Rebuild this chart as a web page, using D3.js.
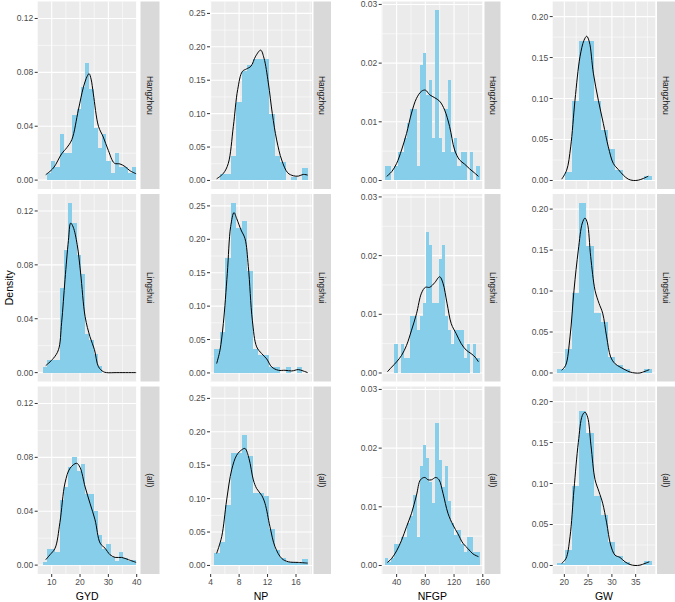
<!DOCTYPE html>
<html>
<head>
<meta charset="utf-8">
<script src="https://cdn.jsdelivr.net/npm/d3@7"></script>
<style>
  body { margin: 0; background: #fff; }
  text { font-family: "Liberation Sans", Arial, Helvetica, sans-serif; }
</style>
</head>
<body>
<div id="chart"></div>
<script>
// ---- data ----
const rowLabels = ["Hangzhou", "Lingshui", "(all)"];
const varNames = ["GYD", "NP", "NFGP", "GW"];

// GYD: 22 bins
const gydBinStart = 6.8, gydBinWidth = 1.5;
const gydHangzhou = [0, 0.005, 0.014, 0.010, 0.034, 0.020, 0.020, 0.048, 0.053, 0.069, 0.087, 0.068, 0.039, 0.024, 0.034, 0.014, 0.005, 0.020, 0.010, 0.010, 0.005, 0.010];
const gydLingshui = [0.0045, 0.0094, 0.0094, 0.0094, 0.063, 0.091, 0.126, 0.111, 0.087, 0.073, 0.029, 0.024, 0.014, 0.005, 0, 0, 0, 0, 0, 0, 0, 0];
const gydAll = [0.002, 0.012, 0.012, 0.0096, 0.048, 0.058, 0.073, 0.080, 0.070, 0.075, 0.053, 0.053, 0.040, 0.022, 0.012, 0.016, 0.006, 0.003, 0.0096, 0.005, 0.003, 0.004];

// NP: 17 bins
const npBinStart = 4.47, npBinWidth = 0.776;
const npHangzhou = [0, 0.009, 0.009, 0.037, 0.118, 0.164, 0.173, 0.182, 0.182, 0.182, 0.100, 0.037, 0.027, 0, 0.0055, 0, 0.018];
const npLingshui = [0.036, 0.062, 0.172, 0.254, 0.217, 0.227, 0.153, 0.036, 0.027, 0.027, 0.009, 0.009, 0, 0.009, 0, 0.009, 0];
const npAll = [0.018, 0.035, 0.090, 0.169, 0.169, 0.195, 0.164, 0.109, 0.109, 0.104, 0.055, 0.023, 0.0105, 0.0055, 0.0055, 0.003, 0.009];

// NFGP: 30 bins
const nfgpBinStart = 23.8, nfgpBinWidth = 4.39;
const nfgpHangzhou = [0.0024, 0.0024, 0, 0.0024, 0.0049, 0.0049, 0.0073, 0.0098, 0.0122, 0.0122, 0.0024, 0.0196, 0.0217, 0.0146, 0.0171, 0.0073, 0.029, 0.0073, 0.0049, 0.0122, 0.0171, 0.0049, 0.0073, 0.0024, 0.0049, 0.0049, 0, 0.0049, 0, 0.0024];
const nfgpLingshui = [0, 0, 0, 0.0049, 0, 0.0049, 0.0025, 0.0025, 0.0097, 0.0097, 0.0073, 0.0097, 0.012, 0.024, 0.0218, 0.012, 0.012, 0.0194, 0.0218, 0.0097, 0.0073, 0.0049, 0.0073, 0.0073, 0.0073, 0.0025, 0.0049, 0, 0.0049, 0.0025];
const nfgpAll = [0.0012, 0.0006, 0.0012, 0.0036, 0.0036, 0.0048, 0.0048, 0.0072, 0.0084, 0.012, 0.0048, 0.017, 0.0206, 0.0183, 0.0143, 0.0106, 0.0243, 0.018, 0.0133, 0.017, 0.011, 0.0072, 0.0052, 0.006, 0.0036, 0.0023, 0.0049, 0.0049, 0.0023, 0.0023];

// GW: 13 bins
const gwBinStart = 18.53, gwBinWidth = 1.525;
const gwHangzhou = [0, 0.0098, 0.097, 0.17, 0.17, 0.097, 0.062, 0.038, 0.013, 0, 0, 0, 0.0049];
const gwLingshui = [0.0049, 0.029, 0.097, 0.208, 0.155, 0.073, 0.062, 0.019, 0.0094, 0.0049, 0, 0, 0.0049];
const gwAll = [0.0025, 0.019, 0.097, 0.188, 0.162, 0.085, 0.062, 0.029, 0.012, 0.004, 0, 0, 0.005];

// density curves [value, density]
const gydHangzhouCurve = [[7.9,0.004],[10.6,0.009],[13.5,0.0195],[15.3,0.024],[17.1,0.030],[19.4,0.052],[21.2,0.069],[22.5,0.077],[23.2,0.079],[23.9,0.075],[24.7,0.064],[26.5,0.040],[28.2,0.032],[30.0,0.022],[32.1,0.0126],[34.1,0.012],[35.9,0.010],[37.6,0.007],[39.8,0.0047]];
const gydLingshuiCurve = [[7.9,0.0052],[10.6,0.0106],[12.4,0.017],[13.5,0.037],[14.7,0.069],[15.9,0.098],[16.7,0.111],[17.6,0.108],[19.0,0.095],[20.2,0.074],[21.8,0.0415],[23.5,0.0267],[25.1,0.017],[26.5,0.0044],[28.2,0.0007],[29.4,0],[33,0],[39.8,0]];
const gydAllCurve = [[7.9,0.004],[9.4,0.0077],[11.2,0.0126],[12.9,0.0316],[14.7,0.061],[16.5,0.072],[18.8,0.0756],[20.0,0.0726],[21.8,0.058],[23.5,0.046],[25.3,0.0336],[27.1,0.0163],[28.8,0.0126],[30.6,0.0077],[32.4,0.0057],[34.7,0.0057],[37.1,0.004],[39.8,0.002]];

const npHangzhouCurve = [[4.84,0.0025],[5.78,0.0105],[6.48,0.0256],[7.19,0.081],[7.8,0.136],[8.45,0.163],[9.06,0.167],[9.67,0.171],[10.33,0.186],[11.03,0.195],[11.5,0.183],[12.11,0.146],[12.67,0.1],[13.28,0.0606],[13.99,0.0306],[14.83,0.0115],[15.63,0.007],[16.33,0.0065],[17.03,0.009],[17.64,0.008]];
const npLingshuiCurve = [[4.84,0.014],[5.31,0.034],[5.78,0.074],[6.34,0.149],[6.81,0.219],[7.28,0.24],[7.66,0.231],[8.27,0.214],[8.83,0.201],[9.3,0.159],[9.86,0.079],[10.47,0.039],[11.17,0.029],[11.88,0.021],[12.58,0.009],[13.52,0.004],[14.45,0.004],[15.4,0.003],[16.33,0.005],[17.0,0.003],[17.64,0.0005]];
const npAllCurve = [[4.84,0.018],[5.55,0.043],[6.25,0.098],[6.95,0.143],[7.66,0.165],[8.36,0.173],[8.83,0.175],[9.39,0.16],[10.0,0.128],[10.47,0.115],[11.17,0.105],[11.64,0.093],[12.34,0.058],[13.05,0.028],[13.99,0.0105],[14.92,0.0055],[16.33,0.0045],[17.64,0.0035]];

const nfgpHangzhouCurve = [[26.2,0.0007],[33.1,0.0015],[40,0.0029],[46.9,0.0052],[53.8,0.008],[60.8,0.0115],[67.7,0.014],[74.6,0.0152],[80.1,0.0154],[86.1,0.0146],[93.1,0.0141],[100,0.0135],[106.9,0.012],[113.8,0.0092],[120.8,0.0052],[127.7,0.0035],[134.6,0.0028],[141.5,0.002],[148.4,0.0013],[154,0.0007]];
const nfgpLingshuiCurve = [[27.1,0.0002],[33.1,0.001],[40,0.0019],[46.9,0.003],[53.8,0.0047],[60.8,0.0073],[67.7,0.0101],[74.6,0.0136],[80.1,0.0146],[86.1,0.0146],[93.1,0.0154],[100,0.0164],[104.6,0.0153],[110.2,0.0119],[116.1,0.0084],[123,0.0067],[130,0.005],[136.9,0.0039],[143.8,0.0033],[149.4,0.0027],[154,0.0019]];
const nfgpAllCurve = [[27.1,0.0005],[33.1,0.0012],[40,0.0025],[46.9,0.0043],[53.8,0.0066],[60.8,0.0089],[67.7,0.012],[73.2,0.0146],[79.2,0.015],[83.8,0.0146],[88.5,0.0146],[94.5,0.015],[99.1,0.0146],[104.6,0.0123],[111.5,0.0089],[118.5,0.0069],[125.4,0.0054],[132.3,0.0038],[139.2,0.0029],[146.1,0.002],[154,0.0015]];

const gwHangzhouCurve = [[19.44,0.0016],[20.49,0.0126],[21.33,0.041],[22.24,0.098],[23.29,0.151],[24.13,0.171],[24.7,0.176],[25.26,0.169],[26.1,0.131],[27.15,0.098],[28.2,0.0696],[29.25,0.041],[30.3,0.0208],[31.35,0.0134],[32.4,0.0065],[33.45,0.0016],[34.5,0],[35.56,0.0004],[36.6,0.0024],[37.66,0.0053]];
const gwLingshuiCurve = [[19.44,0.0033],[20.28,0.0094],[21.19,0.044],[22.03,0.101],[22.94,0.15],[23.78,0.183],[24.34,0.189],[24.84,0.183],[25.54,0.142],[26.45,0.101],[27.29,0.085],[28.06,0.073],[28.9,0.044],[29.74,0.0196],[30.65,0.0114],[31.7,0.0073],[32.75,0.004],[33.8,0.0012],[34.86,0],[35.9,0],[36.96,0.002],[37.87,0.004]];
const gwAllCurve = [[19.44,0.0025],[20.35,0.0086],[21.19,0.035],[22.03,0.093],[22.94,0.15],[23.78,0.183],[24.34,0.187],[24.9,0.181],[25.61,0.146],[26.45,0.105],[27.29,0.09],[28.06,0.076],[28.9,0.052],[29.74,0.025],[30.65,0.0127],[31.7,0.0098],[32.75,0.0045],[33.8,0.0012],[34.86,0],[35.9,0.0004],[36.96,0.0025],[37.87,0.0045]];

// tick values
const gydTicksX = [10, 20, 30, 40], gydMinorX = [15, 25, 35];
const gydTicksY = [0, 0.04, 0.08, 0.12], gydMinorY = [0.02, 0.06, 0.10];
const npTicksX = [4, 8, 12, 16], npMinorX = [6, 10, 14, 18];
const npTicksY = [0, 0.05, 0.10, 0.15, 0.20, 0.25], npMinorY = [0.025, 0.075, 0.125, 0.175, 0.225];
const nfgpTicksX = [40, 80, 120, 160], nfgpMinorX = [20, 60, 100, 140];
const nfgpTicksY = [0, 0.01, 0.02, 0.03], nfgpMinorY = [0.005, 0.015, 0.025];
const gwTicksX = [20, 25, 30, 35], gwMinorX = [22.5, 27.5, 32.5, 37.5];
const gwTicksY = [0, 0.05, 0.10, 0.15, 0.20], gwMinorY = [0.025, 0.075, 0.125, 0.175];

// ---- layout ----
const width = 675, height = 602;
const rowTop = [1.5, 194, 386.5];
const panelH = 187.5;

const columns = [
  { name: "GYD", left: 37.7, right: 136.7, stripL: 140.5, stripR: 159.5, xDom: [5.06, 40.0], yDom: [-0.0066, 0.1326],
    binStart: gydBinStart, binWidth: gydBinWidth, hist: [gydHangzhou, gydLingshui, gydAll],
    curves: [gydHangzhouCurve, gydLingshuiCurve, gydAllCurve],
    tx: gydTicksX, mx: gydMinorX, ty: gydTicksY, my: gydMinorY },
  { name: "NP", left: 210, right: 312, stripL: 313.5, stripR: 331, xDom: [3.906, 18.25], yDom: [-0.0128, 0.2678],
    binStart: npBinStart, binWidth: npBinWidth, hist: [npHangzhou, npLingshui, npAll],
    curves: [npHangzhouCurve, npLingshuiCurve, npAllCurve],
    tx: npTicksX, mx: npMinorX, ty: npTicksY, my: npMinorY },
  { name: "NFGP", left: 381.7, right: 483, stripL: 484.5, stripR: 500.5, xDom: [19.23, 160.3], yDom: [-0.00145, 0.0305],
    binStart: nfgpBinStart, binWidth: nfgpBinWidth, hist: [nfgpHangzhou, nfgpLingshui, nfgpAll],
    curves: [nfgpHangzhouCurve, nfgpLingshuiCurve, nfgpAllCurve],
    tx: nfgpTicksX, mx: nfgpMinorX, ty: nfgpTicksY, my: nfgpMinorY },
  { name: "GW", left: 552.7, right: 655.3, stripL: 657, stripR: 675, xDom: [17.55, 39.13], yDom: [-0.0104, 0.2184],
    binStart: gwBinStart, binWidth: gwBinWidth, hist: [gwHangzhou, gwLingshui, gwAll],
    curves: [gwHangzhouCurve, gwLingshuiCurve, gwAllCurve],
    tx: gwTicksX, mx: gwMinorX, ty: gwTicksY, my: gwMinorY }
];

const svg = d3.select("#chart").append("svg")
  .attr("width", width).attr("height", height);

const fmtY = d3.format(".2f");
const fmtX = d3.format("d");

columns.forEach((col) => {
  const x = d3.scaleLinear().domain(col.xDom).range([col.left, col.right]);
  const xInside = (v) => v >= col.xDom[0] && v <= col.xDom[1];

  rowLabels.forEach((rowName, r) => {
    const top = rowTop[r], bottom = top + panelH;
    const y = d3.scaleLinear().domain(col.yDom).range([bottom, top]);
    const g = svg.append("g");

    // panel background
    g.append("rect")
      .attr("x", col.left).attr("y", top)
      .attr("width", col.right - col.left).attr("height", panelH)
      .attr("fill", "#EBEBEB");

    // minor grid
    g.selectAll(".minx").data(col.mx.filter(xInside)).join("line")
      .attr("x1", (d) => x(d)).attr("x2", (d) => x(d))
      .attr("y1", top).attr("y2", bottom)
      .attr("stroke", "#fff").attr("stroke-width", 0.55);
    g.selectAll(".miny").data(col.my).join("line")
      .attr("x1", col.left).attr("x2", col.right)
      .attr("y1", (d) => y(d)).attr("y2", (d) => y(d))
      .attr("stroke", "#fff").attr("stroke-width", 0.55);

    // major grid
    g.selectAll(".majx").data(col.tx.filter(xInside)).join("line")
      .attr("x1", (d) => x(d)).attr("x2", (d) => x(d))
      .attr("y1", top).attr("y2", bottom)
      .attr("stroke", "#fff").attr("stroke-width", 1.1);
    g.selectAll(".majy").data(col.ty).join("line")
      .attr("x1", col.left).attr("x2", col.right)
      .attr("y1", (d) => y(d)).attr("y2", (d) => y(d))
      .attr("stroke", "#fff").attr("stroke-width", 1.1);

    // histogram bars
    g.selectAll(".bar").data(col.hist[r].map((h, i) => ({ h, i })).filter((d) => d.h > 0))
      .join("rect")
      .attr("x", (d) => x(col.binStart + d.i * col.binWidth))
      .attr("width", (d) => x(col.binStart + (d.i + 1) * col.binWidth) - x(col.binStart + d.i * col.binWidth))
      .attr("y", (d) => y(d.h))
      .attr("height", (d) => y(0) - y(d.h))
      .attr("fill", "#87CEEB")
      .attr("shape-rendering", "crispEdges");

    // density curve
    const line = d3.line()
      .x((d) => x(d[0]))
      .y((d) => y(d[1]))
      .curve(d3.curveCatmullRom.alpha(0.5));
    g.append("path")
      .attr("d", line(col.curves[r]))
      .attr("fill", "none")
      .attr("stroke", "#000")
      .attr("stroke-width", 1);

    // y axis ticks + labels
    g.selectAll(".ytick").data(col.ty).join("line")
      .attr("x1", col.left - 3).attr("x2", col.left)
      .attr("y1", (d) => y(d)).attr("y2", (d) => y(d))
      .attr("stroke", "#333").attr("stroke-width", 1);
    g.selectAll(".ylab").data(col.ty).join("text")
      .attr("x", col.left - 4.5)
      .attr("y", (d) => y(d))
      .attr("dy", "0.35em")
      .attr("text-anchor", "end")
      .attr("font-size", 8.5)
      .attr("fill", "#4D4D4D")
      .text((d) => fmtY(d));

    // strip
    g.append("rect")
      .attr("x", col.stripL).attr("y", top)
      .attr("width", col.stripR - col.stripL).attr("height", panelH)
      .attr("fill", "#D9D9D9");
    const cx = (col.stripL + col.stripR) / 2, cy = top + panelH / 2;
    g.append("text")
      .attr("transform", `translate(${cx},${cy}) rotate(90)`)
      .attr("text-anchor", "middle")
      .attr("dy", "0.35em")
      .attr("font-size", 8.5)
      .attr("fill", "#1A1A1A")
      .text(rowName);

    // x axis on bottom row
    if (r === rowLabels.length - 1) {
      g.selectAll(".xtick").data(col.tx.filter(xInside)).join("line")
        .attr("x1", (d) => x(d)).attr("x2", (d) => x(d))
        .attr("y1", bottom).attr("y2", bottom + 3)
        .attr("stroke", "#333").attr("stroke-width", 1);
      g.selectAll(".xlab").data(col.tx.filter(xInside)).join("text")
        .attr("x", (d) => x(d))
        .attr("y", bottom + 8)
        .attr("dy", "0.35em")
        .attr("text-anchor", "middle")
        .attr("font-size", 8.5)
        .attr("fill", "#4D4D4D")
        .text((d) => fmtX(d));
      g.append("text")
        .attr("x", (col.left + col.right) / 2)
        .attr("y", 596)
        .attr("dy", "0.35em")
        .attr("text-anchor", "middle")
        .attr("font-size", 10.5)
        .attr("fill", "#000")
        .text(col.name);
    }
  });
});

// y axis title
svg.append("text")
  .attr("transform", `translate(9,${rowTop[1] + panelH / 2}) rotate(-90)`)
  .attr("text-anchor", "middle")
  .attr("dy", "0.35em")
  .attr("font-size", 10.5)
  .attr("fill", "#000")
  .text("Density");
</script>
</body>
</html>
